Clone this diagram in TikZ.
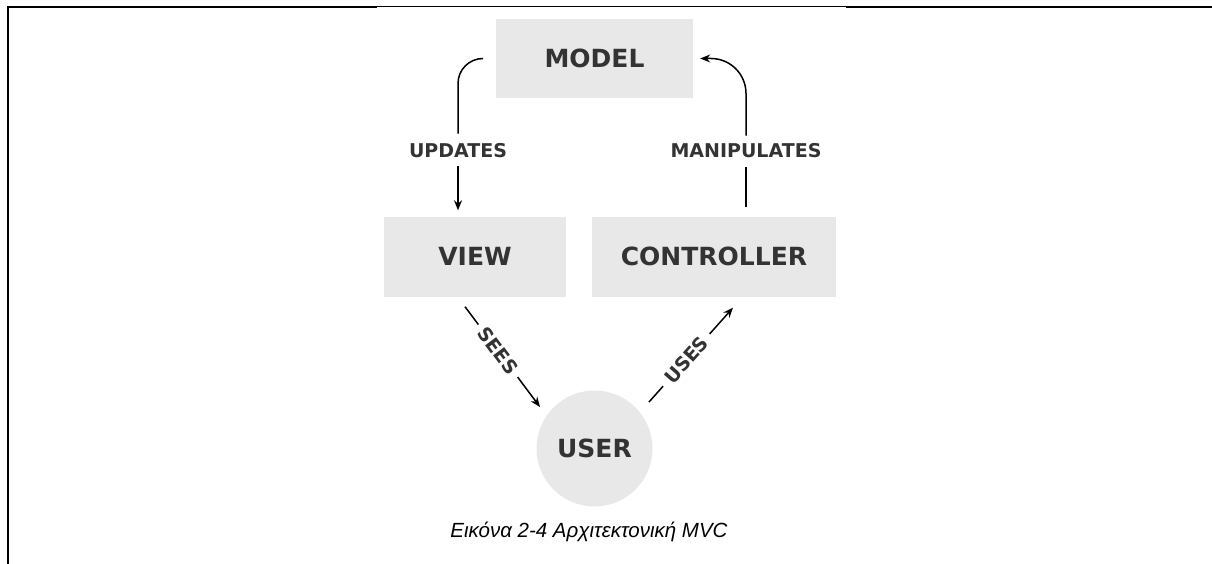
\documentclass[tikz,border=0pt]{standalone}
\usepackage{fontspec}
\newfontfamily\lblfont{DejaVu Sans}
\newfontfamily\capfont{Liberation Sans}
\usetikzlibrary{arrows.meta,calc}
\definecolor{boxgray}{HTML}{E8E8E8}
\definecolor{txt}{HTML}{333333}
\tikzset{
  box/.style={fill=boxgray, draw=none, inner sep=0pt, text=txt,
    font=\lblfont\bfseries\fontsize{25}{30}\selectfont},
  lbl/.style={text=txt, inner sep=0pt,
    font=\lblfont\bfseries\fontsize{19}{22}\selectfont},
  conn/.style={line width=1.5pt, black},
  tip/.style={-{Stealth[length=10pt,width=8pt]}},
  frame/.style={line width=2pt, black}
}
\begin{document}
\begin{tikzpicture}[x=1pt,y=-1pt]
\useasboundingbox (0,0) rectangle (1212,564);
% frame
\draw[frame] (8,564) -- (8,7) -- (377,7);
\draw[line width=1pt] (377,7) -- (846,7);
\draw[frame] (846,7) -- (1212,7);
% nodes
\node[box, minimum width=197pt, minimum height=79pt] (model) at (594.5,58.5) {MODEL};
\node[box, minimum width=182pt, minimum height=80pt] (view) at (475,256.5) {VIEW};
\node[box, minimum width=244pt, minimum height=80pt] (ctrl) at (714,256.5) {CONTROLLER};
\node[circle, fill=boxgray, minimum size=116pt, inner sep=0pt, text=txt,
  font=\lblfont\bfseries\fontsize{25}{30}\selectfont] (user) at (594.5,448.5) {USER};
% labels
\node[lbl] (upd) at (458,151) {UPDATES};
\node[lbl] (man) at (746,151) {MANIPULATES};
% connectors
\draw[conn, rounded corners=25pt, shorten >=10pt] ([xshift=-13pt]model.west) -| (upd.north);
\draw[conn, tip, shorten <=8pt, shorten >=6pt] (upd.south) -- (upd.south |- view.north);
\draw[conn, shorten <=9pt, shorten >=9pt] (man.south |- ctrl.north) -- (man.south);
\draw[conn, tip, rounded corners=35pt, shorten <=8pt] (man.north) |- ([xshift=7pt]model.east);
\draw[conn, tip] ([shift={(-10,10)}]view.south) -- node[lbl, sloped, fill=white, inner xsep=6pt, inner ysep=2pt, pos=0.44] {SEES} ([shift={(-54.5,-41.5)}]user.center);
\draw[conn, tip] ([shift={(54.5,-46.5)}]user.center) -- node[lbl, sloped, fill=white, inner xsep=7pt, inner ysep=2pt, pos=0.445] {USES} ([shift={(19,11)}]ctrl.south);
% caption
\node[font=\capfont\itshape\fontsize{20.5}{24}\selectfont, anchor=base, inner sep=0pt] (cap) at (589,537) {Εικόνα 2-4 Αρχιτεκτονική MVC};
\end{tikzpicture}
\end{document}
